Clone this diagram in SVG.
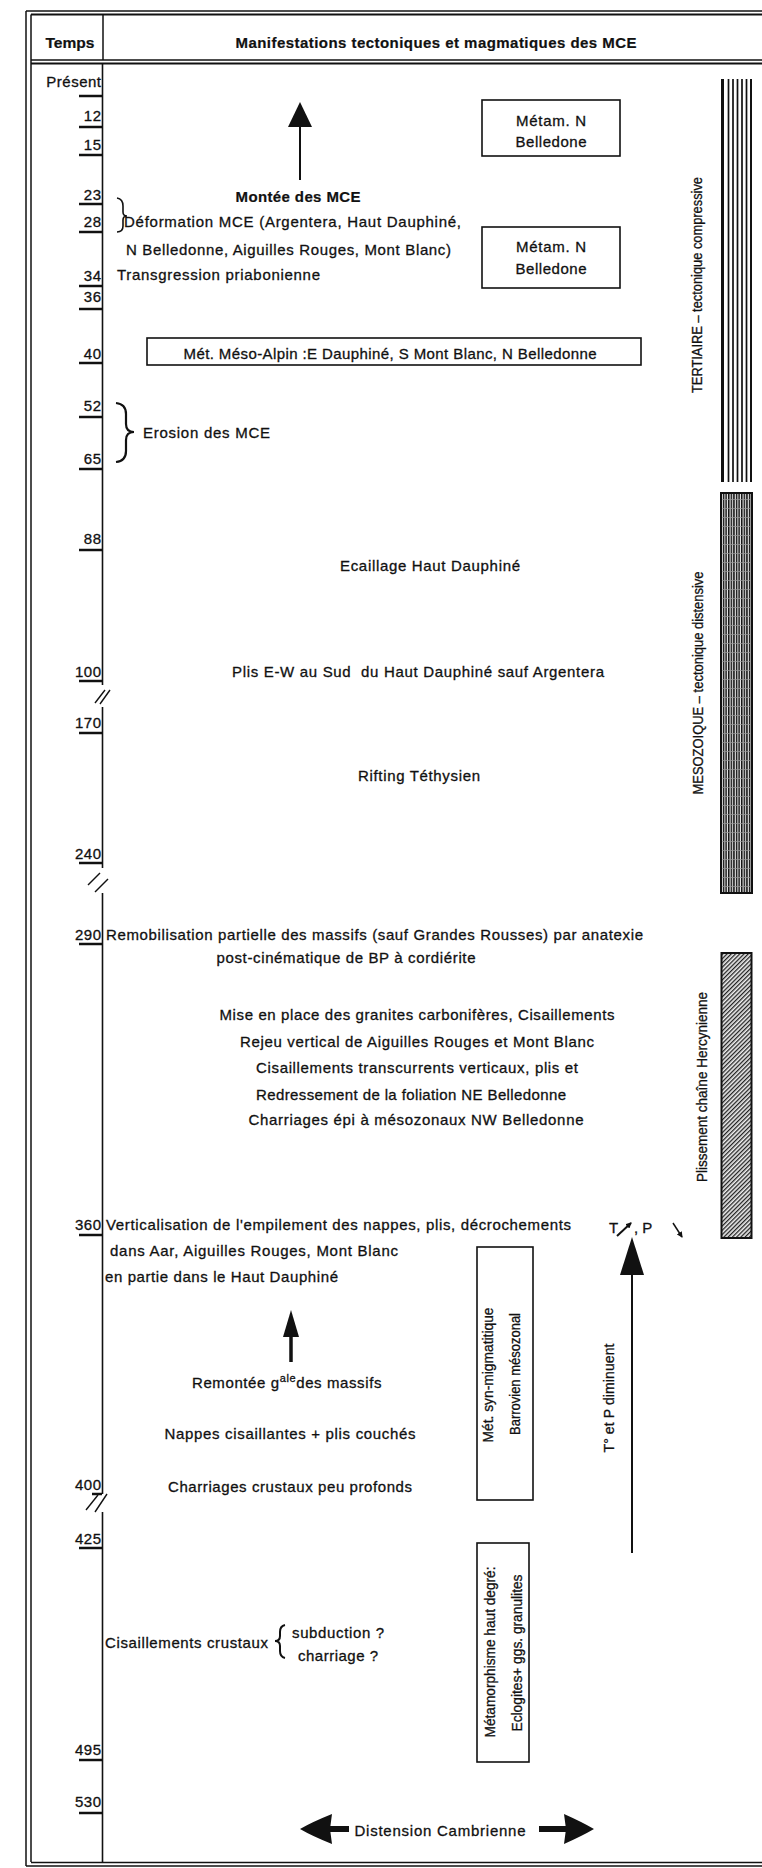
<svg xmlns="http://www.w3.org/2000/svg" width="762" height="1868" viewBox="0 0 762 1868">
<style>
.t{font-family:"Liberation Sans",Arial,sans-serif;font-size:15px;fill:#111;stroke:#111;stroke-width:0.3}
.k{font-family:"Liberation Sans",Arial,sans-serif;font-size:15px;fill:#111;stroke:#111;stroke-width:0.3;letter-spacing:0.5px;text-anchor:end}
.r{font-family:"Liberation Sans",Arial,sans-serif;font-size:14px;fill:#111;stroke:#111;stroke-width:0.3;text-anchor:middle}
.b{font-weight:bold;stroke-width:0.2}
.m{text-anchor:middle}
.ln{stroke:#111;fill:none}
.box{stroke:#111;stroke-width:1.6;fill:#fff}
.ul{stroke:#111;stroke-width:2.5}
</style>
<defs>
<pattern id="pMeso" width="2.6" height="9" patternUnits="userSpaceOnUse">
<rect width="2.6" height="9" fill="#eee"/>
<rect x="0" y="0" width="1.5" height="9" fill="#111"/>
<rect x="0" y="4" width="2.6" height="0.7" fill="#999"/>
</pattern>
<pattern id="pHerc" width="3" height="3" patternUnits="userSpaceOnUse" patternTransform="rotate(45)">
<rect width="3" height="3" fill="#eee"/>
<rect x="0" y="0" width="1.3" height="3" fill="#222"/>
</pattern>
<marker id="ah" markerWidth="6" markerHeight="6" refX="5" refY="3" orient="auto" markerUnits="userSpaceOnUse">
<path d="M0,0 L6,3 L0,6 z" fill="#111"/>
</marker>
</defs>
<rect width="762" height="1868" fill="#fff"/>

<g id="frame" class="ln">
<line x1="26" y1="11" x2="762" y2="11" stroke-width="1.5"/>
<line x1="31" y1="14.5" x2="762" y2="14.5" stroke-width="2"/>
<line x1="26" y1="11" x2="26" y2="1866" stroke-width="1.5"/>
<line x1="31" y1="14.5" x2="31" y2="1862" stroke-width="1.5"/>
<line x1="31" y1="60" x2="762" y2="60" stroke-width="1.5"/>
<line x1="31" y1="63.5" x2="762" y2="63.5" stroke-width="2"/>
<line x1="26" y1="1866" x2="762" y2="1866" stroke-width="1.5"/>
<line x1="31" y1="1862.5" x2="762" y2="1862.5" stroke-width="1.5"/>
<line x1="103" y1="14.5" x2="103" y2="60" stroke-width="1.5"/>
</g>

<g id="header">
<text class="t b m" x="70" y="48" textLength="49" lengthAdjust="spacingAndGlyphs">Temps</text>
<text class="t b m" x="436" y="48" textLength="401">Manifestations tectoniques et magmatiques des MCE</text>
</g>

<g id="axis" class="ln" stroke-width="1.6">
<line x1="102.5" y1="63.5" x2="102.5" y2="685"/>
<line x1="102.5" y1="707" x2="102.5" y2="868"/>
<line x1="102.5" y1="893" x2="102.5" y2="1494"/>
<line x1="102.5" y1="1512" x2="102.5" y2="1862"/>
<g stroke-width="1.4">
<line x1="95" y1="703" x2="105" y2="690"/>
<line x1="100" y1="704" x2="110" y2="690"/>
<line x1="88" y1="885" x2="100" y2="873"/>
<line x1="95" y1="892" x2="108" y2="879"/>
<line x1="86" y1="1510" x2="98" y2="1495"/>
<line x1="95" y1="1512" x2="107" y2="1494"/>
</g>
</g>

<g id="ticks">
<text class="k" x="101.5" y="87">Présent</text>
<text class="k" x="101.5" y="121">12</text>
<text class="k" x="101.5" y="150">15</text>
<text class="k" x="101.5" y="200">23</text>
<text class="k" x="101.5" y="227">28</text>
<text class="k" x="101.5" y="281">34</text>
<text class="k" x="101.5" y="302">36</text>
<text class="k" x="101.5" y="359">40</text>
<text class="k" x="101.5" y="411">52</text>
<text class="k" x="101.5" y="464">65</text>
<text class="k" x="101.5" y="544">88</text>
<text class="k" x="101.5" y="677">100</text>
<text class="k" x="101.5" y="728">170</text>
<text class="k" x="101.5" y="859">240</text>
<text class="k" x="101.5" y="940">290</text>
<text class="k" x="101.5" y="1230">360</text>
<text class="k" x="101.5" y="1490">400</text>
<text class="k" x="101.5" y="1544">425</text>
<text class="k" x="101.5" y="1755">495</text>
<text class="k" x="101.5" y="1807">530</text>
<g class="ul">
<line x1="79" y1="96" x2="102" y2="96"/>
<line x1="79" y1="127" x2="102" y2="127"/>
<line x1="79" y1="155" x2="102" y2="155"/>
<line x1="79" y1="204" x2="102" y2="204"/>
<line x1="79" y1="232" x2="102" y2="232"/>
<line x1="79" y1="286" x2="102" y2="286"/>
<line x1="79" y1="309" x2="102" y2="309"/>
<line x1="79" y1="363" x2="102" y2="363"/>
<line x1="79" y1="417" x2="102" y2="417"/>
<line x1="79" y1="469" x2="102" y2="469"/>
<line x1="79" y1="550" x2="102" y2="550"/>
<line x1="79" y1="681" x2="102" y2="681"/>
<line x1="79" y1="733" x2="102" y2="733"/>
<line x1="79" y1="863" x2="102" y2="863"/>
<line x1="79" y1="944" x2="102" y2="944"/>
<line x1="79" y1="1235" x2="102" y2="1235"/>
<line x1="92" y1="1494" x2="102" y2="1494"/>
<line x1="79" y1="1548" x2="102" y2="1548"/>
<line x1="79" y1="1760" x2="102" y2="1760"/>
<line x1="79" y1="1813" x2="102" y2="1813"/>
</g>
</g>

<g id="bars">
<g id="tertiaire">
<rect x="721" y="79" width="31" height="403" fill="#fff"/>
<g stroke="#111" stroke-width="1.7">
<line x1="722.5" y1="79" x2="722.5" y2="482" stroke-width="3"/>
<line x1="728.5" y1="79" x2="728.5" y2="482"/>
<line x1="733" y1="79" x2="733" y2="482"/>
<line x1="737.5" y1="79" x2="737.5" y2="482"/>
<line x1="742" y1="79" x2="742" y2="482"/>
<line x1="746.5" y1="79" x2="746.5" y2="482"/>
<line x1="751" y1="79" x2="751" y2="482" stroke-width="2"/>
</g>
<text class="r" transform="translate(702,285) rotate(-90)" textLength="216" lengthAdjust="spacingAndGlyphs">TERTIAIRE – tectonique compressive</text>
</g>
<g id="mesozoique">
<rect x="721" y="493" width="31" height="400" fill="url(#pMeso)" stroke="#111" stroke-width="2"/>
<text class="r" transform="translate(703,683) rotate(-90)" textLength="223" lengthAdjust="spacingAndGlyphs">MESOZOIQUE – tectonique distensive</text>
</g>
<g id="hercynien">
<rect x="721.5" y="953" width="30" height="285" fill="url(#pHerc)" stroke="#111" stroke-width="2"/>
<text class="r" transform="translate(707,1087) rotate(-90)" textLength="190" lengthAdjust="spacingAndGlyphs">Plissement chaîne Hercynienne</text>
</g>
</g>

<g id="montee">
<text class="t b m" x="298" y="202" textLength="125">Montée des MCE</text>
</g>
<g id="metam1">
<rect class="box" x="482" y="100" width="138" height="56"/>
<text class="t m" x="551" y="126" textLength="70">Métam. N</text>
<text class="t m" x="551" y="147" textLength="71">Belledone</text>
</g>
<g id="deformation">
<text class="t" x="124" y="227" textLength="337">Déformation MCE (Argentera, Haut Dauphiné,</text>
<text class="t" x="126" y="255" textLength="325">N Belledonne, Aiguilles Rouges, Mont Blanc)</text>
</g>
<g id="metam2">
<rect class="box" x="482" y="227" width="138" height="61"/>
<text class="t m" x="551" y="252" textLength="70">Métam. N</text>
<text class="t m" x="551" y="274" textLength="71">Belledone</text>
</g>
<g id="transgression">
<text class="t" x="117" y="280" textLength="203">Transgression priabonienne</text>
</g>
<g id="mesoalpin">
<rect class="box" x="147" y="338" width="494" height="27"/>
<text class="t m" x="390" y="359" textLength="413">Mét. Méso-Alpin :E Dauphiné, S Mont Blanc, N Belledonne</text>
</g>
<g id="erosion">
<text class="t" x="143" y="438" textLength="127">Erosion des MCE</text>
</g>
<g id="ecaillage"><text class="t m" x="430" y="571" textLength="180">Ecaillage Haut Dauphiné</text></g>
<g id="plisEW"><text class="t m" x="418" y="677" textLength="372" xml:space="preserve">Plis E-W au Sud  du Haut Dauphiné sauf Argentera</text></g>
<g id="rifting"><text class="t m" x="419" y="781" textLength="122">Rifting Téthysien</text></g>
<g id="remobilisation">
<text class="t" x="106" y="940" textLength="537">Remobilisation partielle des massifs (sauf Grandes Rousses) par anatexie</text>
<text class="t m" x="346" y="963" textLength="259">post-cinématique de BP à cordiérite</text>
</g>
<g id="carbonifere">
<text class="t m" x="417" y="1020" textLength="395">Mise en place des granites carbonifères, Cisaillements</text>
<text class="t m" x="417" y="1047" textLength="354">Rejeu vertical de Aiguilles Rouges et Mont Blanc</text>
<text class="t m" x="417" y="1073" textLength="322">Cisaillements transcurrents verticaux, plis et</text>
<text class="t m" x="411" y="1100" textLength="310">Redressement de la foliation NE Belledonne</text>
<text class="t m" x="416" y="1125" textLength="335">Charriages épi à mésozonaux NW Belledonne</text>
</g>
<g id="verticalisation">
<text class="t" x="106" y="1230" textLength="465">Verticalisation de l'empilement des nappes, plis, décrochements</text>
<text class="t" x="110" y="1256" textLength="288">dans Aar, Aiguilles Rouges, Mont Blanc</text>
<text class="t" x="105" y="1282" textLength="233">en partie dans le Haut Dauphiné</text>
</g>
<g id="remontee">
<text class="t" x="192" y="1388" letter-spacing="0.6">Remontée g<tspan font-size="11" dy="-6">ale</tspan><tspan dy="6">des massifs</tspan></text>
</g>
<g id="nappes"><text class="t m" x="290" y="1439" textLength="251">Nappes cisaillantes + plis couchés</text></g>
<g id="charriages"><text class="t m" x="290" y="1492" textLength="244">Charriages crustaux peu profonds</text></g>
<g id="metSyn">
<rect class="box" x="477" y="1247" width="56" height="253"/>
<text class="r" transform="translate(493,1375) rotate(-90)" textLength="135" lengthAdjust="spacingAndGlyphs">Mét. syn-migmatitique</text>
<text class="r" transform="translate(520,1374) rotate(-90)" textLength="122" lengthAdjust="spacingAndGlyphs">Barrovien mésozonal</text>
</g>
<g id="metHaut">
<rect class="box" x="477" y="1543" width="52" height="219"/>
<text class="r" transform="translate(495,1652) rotate(-90)" textLength="171" lengthAdjust="spacingAndGlyphs">Métamorphisme haut degré:</text>
<text class="r" transform="translate(522,1653) rotate(-90)" textLength="157" lengthAdjust="spacingAndGlyphs">Eclogites+ ggs. granulites</text>
</g>
<g id="TP">
<text class="t" x="609" y="1233" font-size="12">T</text>
<text class="t" x="634" y="1233" font-size="12">, P</text>
<text class="r" transform="translate(614,1398) rotate(-90)" textLength="109">T° et P diminuent</text>
</g>
<g id="cisaillements">
<text class="t" x="105" y="1648" textLength="163">Cisaillements crustaux</text>
<text class="t" x="292" y="1638" textLength="92">subduction ?</text>
<text class="t" x="298" y="1661" textLength="80">charriage ?</text>
</g>
<g id="distension">
<text class="t m" x="440" y="1836" textLength="171">Distension Cambrienne</text>
</g>

<g id="connectors">
<g class="ln" stroke-width="2">
<line x1="300" y1="125" x2="300" y2="180"/>
<line x1="632" y1="1272" x2="632" y2="1553"/>
</g>
<line x1="291" y1="1335" x2="291" y2="1362" stroke="#111" stroke-width="3.5"/>
<g fill="#111">
<path d="M300,102 L288,127 L312,127 z"/>
<path d="M632,1237 L620,1275 L644,1275 z"/>
<path d="M291,1310 L283,1337 L299,1337 z"/>
<path d="M300,1829 Q312,1822 332,1814 L330,1829 L332,1844 Q312,1836 300,1829 z"/>
<rect x="329" y="1826" width="20" height="6"/>
<path d="M594,1829 Q582,1822 564,1814 L566,1829 L564,1844 Q582,1836 594,1829 z"/>
<rect x="539" y="1826" width="28" height="6"/>
</g>
<g class="ln" stroke-width="1.6">
<path d="M117,198 Q123,199 123,206 L123,212 Q123,216 127,216 Q123,216 123,220 L123,226 Q123,232 117,232"/>
<path d="M116,403 Q126,404 126,414 L126,424 Q126,432 134,432 Q126,432 126,440 L126,451 Q126,461 116,462" stroke-width="2.2"/>
<path d="M285,1625 Q280,1626 280,1632 L280,1636 Q280,1641 275,1641 Q280,1641 280,1646 L280,1651 Q280,1657 285,1658" stroke-width="2"/>
<line x1="617" y1="1236" x2="631" y2="1223" marker-end="url(#ah)" stroke-width="2"/>
<line x1="673" y1="1223" x2="682" y2="1237" marker-end="url(#ah)" stroke-width="1.5"/>
</g>
</g>
</svg>
